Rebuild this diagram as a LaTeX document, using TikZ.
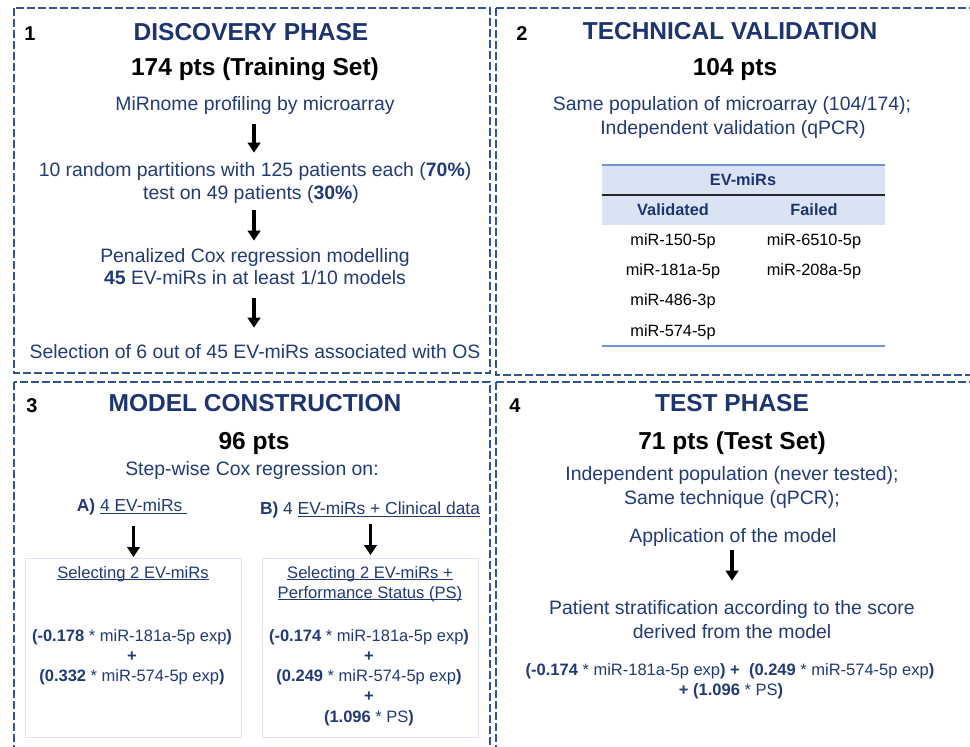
\documentclass[tikz,border=0pt]{standalone}
\usepackage{fontspec}
\setmainfont{Liberation Sans}
\usetikzlibrary{arrows.meta}

\definecolor{navy}{HTML}{1C3470}
\definecolor{textblue}{HTML}{213A78}
\definecolor{borderblue}{HTML}{2F5597}
\definecolor{bandblue}{HTML}{DAE3F3}
\definecolor{ruleblue}{HTML}{6F96D2}
\definecolor{boxline}{HTML}{DCE4F2}

% underline sitting just below the baseline
\newcommand\ulbox[1]{\setbox0=\hbox{#1}\rlap{\rule[-2.2pt]{\wd0}{0.9pt}}\box0}

\tikzset{
  panel/.style={draw=borderblue, line width=2.8pt, dash pattern=on 8pt off 3pt},
  txt/.style={anchor=base, inner sep=0pt},
  phasenum/.style={txt, font=\fontsize{20}{22}\selectfont\bfseries, text=black, yshift=-7.2pt},
  title/.style={txt, font=\fontsize{24.5}{28}\selectfont\bfseries, text=navy, yshift=-8.8pt},
  count/.style={txt, font=\fontsize{24.5}{28}\selectfont\bfseries, text=black, yshift=-8.8pt},
  body/.style={txt, font=\fontsize{19.4}{23}\selectfont, text=textblue,
    text height=14pt, text depth=4pt, yshift=-6.9pt},
  lab/.style={txt, font=\fontsize{17.4}{21}\selectfont, text=textblue,
    text height=12.5pt, text depth=4pt, yshift=-6.2pt},
  hdr/.style={txt, font=\fontsize{16.6}{20}\selectfont, text=textblue, yshift=-6pt},
  formula/.style={txt, font=\fontsize{16.5}{20}\selectfont, text=textblue, yshift=-5.9pt},
  cell/.style={txt, font=\fontsize{16.3}{20}\selectfont, text=black, yshift=-5.85pt},
  headcell/.style={cell, font=\fontsize{16.3}{20}\selectfont\bfseries, text=navy},
  ibox/.style={draw=boxline, line width=1pt, inner sep=0pt, anchor=north west},
  arr/.style={line width=3.3pt, black, -{Triangle[length=10pt,width=12.5pt]}},
}

\begin{document}
\begin{tikzpicture}[x=1pt, y=-1pt]
\useasboundingbox (0,0) rectangle (970,747);
\clip (0,0) rectangle (970,747);
\fill[white] (0,0) rectangle (970,747);

% the four dashed panels
\draw[panel] (14,8) rectangle (490,373);
\draw[panel] (496,8) rectangle (980,375);
\draw[panel] (14,382) rectangle (490,760);
\draw[panel] (496,382) rectangle (980,760);

% ---------- 1: discovery phase ----------
\node[phasenum] (n1) at (30,33) {1};
\node[title] (t1) at (251,32) {DISCOVERY PHASE};
\node[count] (c1) at (255,67) {174 pts (Training Set)};
\node[body] (d1) at (255,104) {MiRnome profiling by microarray};
\node[body] (d2) at (255,170) {10 random partitions with 125 patients each (\textbf{70\%})};
\node[body] (d3) at (251,193) {test on 49 patients (\textbf{30\%})};
\node[body] (d4) at (255,256) {Penalized Cox regression modelling};
\node[body] (d5) at (255,278) {\textbf{45} EV-miRs in at least 1/10 models};
\node[body] (d6) at (255,352) {Selection of 6 out of 45 EV-miRs associated with OS};
\draw[arr, shorten <=9pt, shorten >=10pt] ([xshift=-1pt]d1.south) -- ([xshift=-1pt]d1.south |- d2.north);
\draw[arr, shorten <=6pt, shorten >=8pt] ([xshift=3pt]d3.south) -- ([xshift=3pt]d3.south |- d4.north);
\draw[arr, shorten <=9pt, shorten >=17pt] ([xshift=-1pt]d5.south) -- ([xshift=-1pt]d5.south |- d6.north);

% ---------- 2: technical validation ----------
\node[phasenum] (n2) at (522,33) {2};
\node[title] (t2) at (730,31) {TECHNICAL VALIDATION};
\node[count] (c2) at (735,67) {104 pts};
\node[body] (v1) at (732,104) {Same population of microarray (104/174);};
\node[body] (v2) at (733,128) {Independent validation (qPCR)};

% table of EV-miRs
\fill[bandblue] (602,165) rectangle (885,225);
\draw[ruleblue, line width=1.4pt] (602,165) -- (885,165);
\draw[black!85, line width=1.4pt] (602,195) -- (885,195);
\draw[ruleblue, line width=1.4pt] (602,346) -- (885,346);
\node[headcell] (th) at (743,180) {EV-miRs};
\node[headcell] (tv) at (673,210) {Validated};
\node[headcell] (tf) at (814,210) {Failed};
\node[cell] (r1) at (673,240) {miR-150-5p};
\node[cell] (r2) at (673,270) {miR-181a-5p};
\node[cell] (r3) at (673,300) {miR-486-3p};
\node[cell] (r4) at (673,331) {miR-574-5p};
\node[cell] (f1) at (814,240) {miR-6510-5p};
\node[cell] (f2) at (814,270) {miR-208a-5p};

% ---------- 3: model construction ----------
\node[phasenum] (n3) at (32,405) {3};
\node[title] (t3) at (255,403) {MODEL CONSTRUCTION};
\node[count] (c3) at (254,441) {96 pts};
\node[body] (m1) at (252,469) {Step-wise Cox regression on:};
\node[lab] (la) at (132,505) {\textbf{A)} \ulbox{4 EV-miRs\ }};
\node[lab] (lb) at (370,508) {\textbf{B)} 4 \ulbox{EV-miRs + Clinical data}};

\node[ibox, minimum width=216pt, minimum height=179pt] (boxa) at (25,558) {};
\node[ibox, minimum width=216pt, minimum height=179pt] (boxb) at (262,558) {};
\draw[arr, shorten <=11pt, shorten >=1pt] (la.south -| boxa.north) -- (boxa.north);
\draw[arr, shorten <=6pt, shorten >=3pt] (lb.south -| boxb.north) -- (boxb.north);

\node[hdr] (ha) at (133,572) {\ulbox{Selecting 2 EV-miRs}};
\node[formula] (fa1) at (132,636) {\textbf{(-0.178} * miR-181a-5p exp\textbf{)}};
\node[formula] (fa2) at (132,656) {\textbf{+}};
\node[formula] (fa3) at (132,676) {\textbf{(0.332} * miR-574-5p exp\textbf{)}};

\node[hdr] (hb1) at (370,572) {\ulbox{Selecting 2 EV-miRs +}};
\node[hdr] (hb2) at (370,592) {\ulbox{Performance Status (PS)}};
\node[formula] (fb1) at (369,636) {\textbf{(-0.174} * miR-181a-5p exp\textbf{)}};
\node[formula] (fb2) at (369,656) {\textbf{+}};
\node[formula] (fb3) at (369,676) {\textbf{(0.249} * miR-574-5p exp\textbf{)}};
\node[formula] (fb4) at (369,696) {\textbf{+}};
\node[formula] (fb5) at (369,717) {\textbf{(1.096} * PS\textbf{)}};

% ---------- 4: test phase ----------
\node[phasenum] (n4) at (515,405) {4};
\node[title] (t4) at (732,403) {TEST PHASE};
\node[count] (c4) at (732,441) {71 pts (Test Set)};
\node[body] (s1) at (732,474) {Independent population (never tested);};
\node[body] (s2) at (732,498) {Same technique (qPCR);};
\node[body] (s3) at (733,536) {Application of the model};
\node[body] (s4) at (732,608) {Patient stratification according to the score};
\node[body] (s5) at (732,632) {derived from the model};
\draw[arr, shorten <=3pt, shorten >=20pt] ([xshift=-1pt]s3.south) -- ([xshift=-1pt]s3.south |- s4.north);
\node[formula] (g1) at (730,670) {\textbf{(-0.174} * miR-181a-5p exp\textbf{) +}\ \ \textbf{(0.249} * miR-574-5p exp\textbf{)}};
\node[formula] (g2) at (731,690) {\textbf{+ (1.096} * PS\textbf{)}};
\end{tikzpicture}
\end{document}
